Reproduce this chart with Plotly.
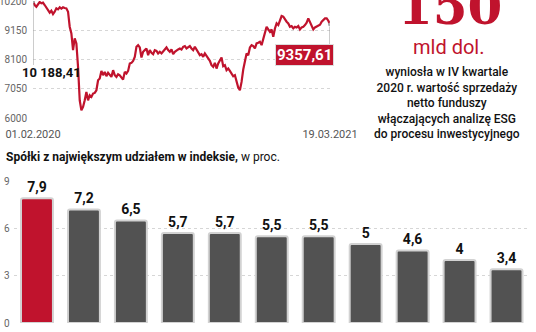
import plotly.graph_objects as go

W, H = 536, 332

# ---------------- data ----------------
INDEX_VALUES = [
    10188.41, 10056, 9996, 10092, 10164, 10116, 10140, 10056, 9972, 9876,
    9780, 9852, 9732, 9816, 9936, 9900, 9972, 9924, 9972, 9948,
    9936, 9816, 9276, 9036, 8436, 8856, 8676, 7836, 6636, 6276,
    6396, 6636, 6936, 6636, 6816, 6756, 6876, 6900, 6996, 7356,
    7416, 7692, 7536, 7656, 7500, 7620, 7536, 7476, 7716, 7536,
    7476, 7572, 7536, 7476, 7380, 7656, 7596, 7692, 7956, 7980,
    8052, 8196, 8556, 8616, 8532, 8172, 8376, 8436, 8496, 8256,
    8436, 8340, 8292, 8436, 8412, 8316, 8376, 8316, 8376, 8436,
    8532, 8436, 8376, 8460, 8292, 8376, 8436, 8460, 8496, 8460,
    8556, 8580, 8496, 8556, 8580, 8496, 8436, 8556, 8460, 8316,
    8256, 8292, 8196, 8316, 8220, 8136, 8052, 7896, 7836, 7980,
    7776, 7956, 8076, 8172, 7860, 7896, 7716, 7776, 7692, 7596,
    7500, 7536, 7296, 7092, 6996, 7296, 7740, 8016, 8316, 8256,
    8532, 8616, 8580, 8496, 8676, 8700, 8736, 8616, 8820, 9036,
    9276, 9180, 9096, 9180, 8916, 9216, 9396, 9336, 9516, 9660,
    9636, 9516, 9456, 9396, 9276, 9300, 9216, 9276, 9252, 9300,
    9180, 9252, 9276, 9336, 9420, 9576, 9456, 9336, 9180, 9252,
    9276, 9300, 9348, 9456, 9516, 9576, 9576, 9492, 9357.61,
]
DATE_LABELS = ["01.02.2020", "19.03.2021"]
Y_TICKS = [6000, 7050, 8100, 9150, 10200]
START_LABEL = "10 188,41"
END_LABEL = "9357,61"

COMPANIES = ["PKO BP", "Allegro", "PZU", "KGHM", "PKN", "CDR",
             "Pekao", "LPP", "Dino", "Orange", "Santander"]
SHARES = [7.9, 7.2, 6.5, 5.7, 5.7, 5.5, 5.5, 5.0, 4.6, 4.0, 3.4]
SHARE_LABELS = ["7,9", "7,2", "6,5", "5,7", "5,7", "5,5", "5,5", "5", "4,6", "4", "3,4"]
BAR_Y_TICKS = [0, 3, 6, 9]

BIG_NUMBER = "150"
BIG_UNIT = "mld dol."
DESCRIPTION = ["wyniosła w IV kwartale", "2020 r. wartość sprzedaży", "netto funduszy",
               "włączających analizę ESG", "do procesu inwestycyjnego"]
BAR_TITLE_BOLD = "Spółki z największym udziałem w indeksie,"
BAR_TITLE_REST = " w proc."

# ---------------- style ----------------
RED = "#c0132d"
DARK = "#525252"
FONT = "Roboto"

def px_x(p):
    return p / W

def px_y(p):
    return 1 - p / H

n = len(INDEX_VALUES)
xs = list(range(n))

fig = go.Figure()

fig.add_trace(go.Scatter(
    x=xs, y=INDEX_VALUES, mode="lines",
    line=dict(color=RED, width=2.2), xaxis="x", yaxis="y",
    hoverinfo="skip", showlegend=False,
))
fig.add_trace(go.Scatter(
    x=[xs[0], xs[-1]], y=[INDEX_VALUES[0], INDEX_VALUES[-1]], mode="markers",
    marker=dict(color="#aaaaaa", size=4), xaxis="x", yaxis="y",
    hoverinfo="skip", showlegend=False,
))

bar_colors = [RED] + [DARK] * (len(COMPANIES) - 1)
tick_text = [f"<span style='color:{RED}'>{COMPANIES[0]}</span>"] + COMPANIES[1:]
fig.add_trace(go.Bar(
    x=COMPANIES, y=SHARES, xaxis="x2", yaxis="y2",
    marker=dict(color=bar_colors, line=dict(color="#d2d2d2", width=2), cornerradius=2),
    text=SHARE_LABELS, textposition="outside", cliponaxis=False,
    textfont=dict(family=FONT, size=14, color="#111111", weight="bold"),
    hoverinfo="skip", showlegend=False,
))

grid = dict(showgrid=True, gridcolor="#d6d6d6", griddash="dot", gridwidth=1)

fig.update_layout(
    width=W, height=H, margin=dict(l=0, r=0, t=0, b=0),
    paper_bgcolor="white", plot_bgcolor="white",
    font=dict(family=FONT, color="#555555"),
    bargap=0.32,
    xaxis=dict(domain=[px_x(33), px_x(330)], range=[0, n - 1], tickvals=[0, n - 1],
               ticktext=DATE_LABELS, showgrid=False, zeroline=False, showline=False,
               ticks="", tickfont=dict(size=11, color="#555555"), ticklabelstandoff=8,
               ticklabeloverflow="allow", automargin=False, anchor="y"),
    yaxis=dict(domain=[px_y(118), px_y(1)], range=[6000, 10200], tickvals=Y_TICKS,
               ticktext=[str(v) for v in Y_TICKS], zeroline=False, showline=False,
               ticks="", tickfont=dict(size=10, color="#666666"), ticklabelstandoff=5,
               ticklabeloverflow="allow", automargin=False, anchor="x", **grid),
    xaxis2=dict(domain=[px_x(13.5), px_x(530)], tickvals=COMPANIES, ticktext=tick_text,
                showgrid=False, zeroline=False, showline=False, ticks="",
                tickfont=dict(size=12, color="#666666"), ticklabelstandoff=4,
                ticklabeloverflow="allow", automargin=False, anchor="y2"),
    yaxis2=dict(domain=[px_y(323), px_y(181)], range=[0, 9], tickvals=BAR_Y_TICKS,
                zeroline=False, showline=False, ticks="",
                tickfont=dict(size=10, color="#666666"), ticklabelstandoff=3,
                automargin=False, anchor="x2", **grid),
)

# leader lines
fig.add_shape(type="line", xref="x", yref="paper", x0=0, x1=0, y0=px_y(3), y1=px_y(65),
              line=dict(color="#999999", width=1))
fig.add_shape(type="line", xref="x", yref="paper", x0=n - 1, x1=n - 1,
              y0=px_y(27), y1=px_y(45), line=dict(color="#999999", width=1))

ann = dict(xref="paper", yref="paper", showarrow=False, xanchor="center", yanchor="middle")

fig.add_annotation(**ann, x=px_x(51), y=px_y(73), text=f"<b>{START_LABEL}</b>",
                   font=dict(family=FONT, size=13, color="#111111"))
fig.add_annotation(**ann, x=px_x(304), y=px_y(54.5), text=f"<b>{END_LABEL}</b>",
                   font=dict(family=FONT, size=15, color="white"),
                   bgcolor=RED, borderpad=1, bordercolor="#dddddd", borderwidth=1)

# bar title
fig.add_annotation(**{**ann, "xanchor": "left"}, x=px_x(4), y=px_y(157),
                   text=f"<b>{BAR_TITLE_BOLD}</b>{BAR_TITLE_REST}",
                   font=dict(family=FONT, size=12, color="#111111"))

# right panel
fig.add_annotation(**ann, x=px_x(450), y=px_y(6),
                   text=f"<b>{BIG_NUMBER}</b>",
                   font=dict(family="DejaVu Serif", size=50, color=RED))
fig.add_annotation(**ann, x=px_x(448), y=px_y(47), text=BIG_UNIT,
                   font=dict(family=FONT, size=20, color=RED))
fig.add_annotation(**ann, x=px_x(447), y=px_y(103),
                   text="<br>".join(DESCRIPTION), align="center",
                   font=dict(family=FONT, size=12, color="#111111", weight=500))

fig.write_html("out.html")
